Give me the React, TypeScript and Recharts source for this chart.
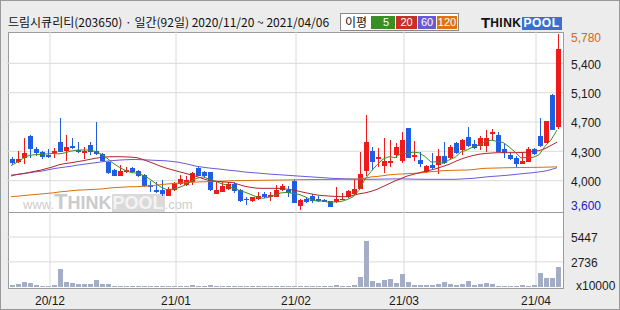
import { ComposedChart, Bar, Line, XAxis, YAxis, CartesianGrid } from 'recharts'

// 일봉 데이터 (2020/11/20 ~ 2021/04/06, 92일)
const opens = [4230, 4200, 4250, 4515, 4355, 4320, 4275, 4300, 4440, 4335, 4395, 4345, 4300, 4405, 4325, 4295, 4200, 4095, 4025, 4075, 4120, 4085, 4035, 3905, 3850, 3850, 3775, 3850, 3920, 3910, 3945, 4125, 4075, 4065, 3800, 3825, 3860, 3920, 3850, 3730, 3715, 3735, 3800, 3755, 3765, 3850, 3850, 3960, 3655, 3735, 3775, 3730, 3725, 3710, 3705, 3730, 3755, 3800, 3860, 4085, 4330, 4235, 4150, 4185, 4280, 4210, 4615, 4255, 4220, 4075, 4155, 4155, 4270, 4240, 4430, 4345, 4505, 4420, 4395, 4395, 4540, 4530, 4355, 4280, 4250, 4170, 4200, 4360, 4515, 4425, 5025, 4630]
const highs = [4260, 4330, 4495, 4530, 4385, 4335, 4350, 4370, 4740, 4535, 4495, 4440, 4385, 4445, 4695, 4310, 4205, 4105, 4155, 4135, 4130, 4095, 4040, 3965, 3950, 3970, 3890, 3950, 4035, 4015, 4075, 4135, 4085, 4075, 3950, 3950, 3950, 3950, 3855, 3765, 3765, 3820, 3820, 3820, 3910, 3920, 3895, 3985, 3735, 3765, 3795, 3775, 3730, 3710, 3890, 3815, 3850, 3985, 4320, 4775, 4375, 4370, 4490, 4465, 4425, 4560, 4615, 4455, 4315, 4155, 4300, 4360, 4440, 4405, 4440, 4480, 4630, 4465, 4515, 4590, 4600, 4560, 4425, 4320, 4270, 4320, 4375, 4370, 4735, 4700, 5035, 5780]
const lows = [4155, 4180, 4165, 4240, 4270, 4230, 4245, 4250, 4320, 4210, 4355, 4310, 4230, 4280, 4280, 4200, 4045, 4025, 4015, 4060, 4055, 4005, 3890, 3825, 3805, 3775, 3775, 3835, 3910, 3895, 3910, 4015, 4000, 3835, 3800, 3820, 3850, 3805, 3705, 3660, 3705, 3725, 3745, 3715, 3755, 3840, 3755, 3690, 3600, 3690, 3690, 3705, 3695, 3640, 3690, 3720, 3745, 3790, 3855, 4015, 4095, 4135, 4060, 4135, 4250, 4180, 4250, 4210, 4130, 4060, 4105, 4040, 4170, 4230, 4290, 4275, 4385, 4355, 4345, 4315, 4465, 4315, 4250, 4225, 4130, 4170, 4190, 4280, 4375, 4425, 4590, 4600]
const closes = [4180, 4230, 4300, 4350, 4310, 4260, 4255, 4330, 4320, 4375, 4370, 4315, 4335, 4320, 4295, 4205, 4055, 4025, 4080, 4095, 4065, 4015, 3895, 3880, 3825, 3800, 3855, 3930, 3985, 3970, 4055, 4025, 4015, 3850, 3850, 3900, 3920, 3840, 3715, 3725, 3755, 3775, 3755, 3785, 3850, 3895, 3805, 3690, 3725, 3705, 3715, 3715, 3695, 3640, 3735, 3740, 3835, 3860, 4045, 4440, 4200, 4255, 4205, 4205, 4380, 4465, 4250, 4280, 4170, 4145, 4125, 4270, 4180, 4380, 4300, 4465, 4395, 4370, 4495, 4495, 4570, 4320, 4300, 4230, 4170, 4205, 4355, 4295, 4395, 4700, 4590, 5595]
// 거래량 (x10000)
const volumes = [180, 365, 580, 475, 255, 145, 145, 255, 2005, 580, 400, 330, 330, 330, 730, 290, 290, 110, 110, 100, 100, 110, 120, 110, 100, 100, 100, 110, 110, 120, 210, 110, 100, 200, 110, 100, 100, 100, 100, 95, 90, 90, 90, 95, 100, 100, 100, 110, 110, 100, 100, 100, 100, 110, 180, 110, 110, 180, 1095, 5000, 620, 440, 730, 840, 440, 1390, 510, 255, 180, 180, 180, 365, 510, 290, 255, 330, 620, 255, 290, 440, 290, 150, 110, 110, 150, 180, 110, 180, 1530, 985, 985, 2190]
// 이동평균선
const ma5 = [4150, 4190, 4240, 4275, 4285, 4290, 4295, 4301, 4295, 4308, 4330, 4342, 4343, 4343, 4327, 4294, 4242, 4180, 4132, 4092, 4064, 4056, 4030, 3990, 3936, 3883, 3851, 3858, 3879, 3908, 3959, 3993, 4010, 3983, 3959, 3928, 3907, 3872, 3845, 3820, 3791, 3762, 3745, 3759, 3784, 3812, 3818, 3805, 3793, 3764, 3728, 3710, 3711, 3694, 3700, 3705, 3729, 3762, 3843, 3984, 4076, 4160, 4229, 4261, 4249, 4302, 4301, 4316, 4309, 4262, 4194, 4198, 4178, 4220, 4251, 4319, 4344, 4382, 4405, 4444, 4465, 4450, 4436, 4383, 4318, 4245, 4252, 4251, 4284, 4390, 4467, 4590]
const ma20 = [4030, 4040, 4050, 4065, 4080, 4095, 4115, 4135, 4160, 4175, 4185, 4198, 4210, 4225, 4240, 4250, 4258, 4260, 4260, 4258, 4255, 4248, 4225, 4198, 4170, 4140, 4116, 4095, 4075, 4055, 4035, 4013, 3988, 3965, 3957, 3950, 3944, 3938, 3915, 3893, 3880, 3870, 3868, 3868, 3868, 3867, 3858, 3848, 3832, 3815, 3800, 3786, 3778, 3773, 3768, 3765, 3765, 3780, 3800, 3812, 3830, 3856, 3890, 3925, 3960, 3990, 4020, 4040, 4060, 4080, 4095, 4115, 4140, 4165, 4200, 4230, 4255, 4275, 4290, 4300, 4305, 4310, 4310, 4310, 4310, 4312, 4315, 4325, 4335, 4360, 4400, 4440]
const ma60 = [4020, 4040, 4050, 4060, 4072, 4080, 4095, 4110, 4122, 4132, 4142, 4155, 4165, 4175, 4185, 4195, 4205, 4212, 4218, 4222, 4225, 4225, 4222, 4219, 4215, 4212, 4208, 4200, 4190, 4175, 4158, 4140, 4130, 4120, 4112, 4105, 4095, 4088, 4080, 4070, 4064, 4058, 4052, 4045, 4040, 4035, 4030, 4025, 4020, 4015, 4010, 4005, 4000, 3995, 3990, 3988, 3985, 3983, 3981, 3980, 3980, 3981, 3983, 3984, 3985, 3985, 3984, 3982, 3981, 3980, 3980, 3980, 3980, 3980, 3980, 3984, 3988, 3992, 4000, 4008, 4015, 4020, 4026, 4032, 4040, 4048, 4055, 4062, 4072, 4082, 4100, 4124]
const ma120 = [3765, 3770, 3778, 3785, 3792, 3798, 3805, 3812, 3823, 3830, 3838, 3845, 3848, 3852, 3856, 3860, 3868, 3876, 3880, 3884, 3888, 3889, 3893, 3897, 3905, 3914, 3922, 3928, 3933, 3938, 3943, 3946, 3949, 3951, 3954, 3957, 3960, 3963, 3964, 3965, 3966, 3967, 3968, 3969, 3970, 3971, 3972, 3974, 3975, 3976, 3977, 3977, 3978, 3978, 3979, 3980, 3980, 3982, 3985, 3992, 4010, 4015, 4025, 4035, 4042, 4045, 4050, 4054, 4058, 4065, 4075, 4080, 4087, 4090, 4092, 4094, 4095, 4100, 4110, 4116, 4118, 4120, 4122, 4124, 4125, 4126, 4127, 4128, 4129, 4130, 4132, 4135]

const priceTicks = [3600, 3963, 4327, 4690, 5053, 5417, 5780]
const priceTickLabels = ['3,600', '4,000', '4,300', '4,700', '5,100', '5,400', '5,780']
const priceGrid = [3963, 4327, 4690, 5053, 5417]
const volTicks = [0, 2736, 5447]
const volTickLabels = ['x10000', '2736', '5447']
const monthStarts = [7, 28, 48, 66, 88]
const monthLabels = ['20/12', '21/01', '21/02', '21/03', '21/04']

const RED = '#f01a1a'
const BLUE = '#1e5ee4'
const VOL = '#a4adc6'
const GRID = '#dadada'
const NUM_FONT = "'Liberation Sans', Arial, sans-serif"
const KR_FONT = "'Noto Sans CJK KR', 'Noto Sans', sans-serif"

const data = opens.map((o, i) => ({
  idx: i,
  pos: i + 0.5,
  o,
  h: highs[i],
  l: lows[i],
  c: closes[i],
  vol: volumes[i],
  ma5: ma5[i],
  ma20: ma20[i],
  ma60: ma60[i],
  ma120: ma120[i],
}))

function Candle(props: any) {
  const { x, y, width, height, payload } = props
  if (!payload || x == null || y == null) return null
  const top = Math.min(y, y + height)
  const bot = Math.max(y, y + height)
  const { o, h, l, c } = payload
  const k = h > l ? (bot - top) / (h - l) : 0
  const yOf = (v: number) => top + (h - v) * k
  const cx = Math.round(x + width / 2)
  const color = c >= o ? RED : BLUE
  const b1 = Math.round(yOf(Math.max(o, c)))
  const b2 = Math.round(yOf(Math.min(o, c)))
  return (
    <g shapeRendering="crispEdges">
      <line x1={cx + 0.5} x2={cx + 0.5} y1={Math.round(top)} y2={Math.round(bot)} stroke={color} strokeWidth={1} />
      <rect x={cx - 2} y={b1} width={5} height={Math.max(1, b2 - b1)} fill={color} />
    </g>
  )
}

function VolBar(props: any) {
  const { x, y, width, height } = props
  if (x == null || !height) return null
  const cx = Math.round(x + width / 2)
  return <rect x={cx - 2} y={y} width={5} height={height} fill={VOL} shapeRendering="crispEdges" />
}

function PriceTick(props: any) {
  const { x, y, payload } = props
  const i = priceTicks.indexOf(payload.value)
  const last = priceTicks.length - 1
  const fill = i === last ? '#d2691e' : i === 0 ? '#1a1ac8' : '#1a1a1a'
  const dy = i === last ? 4 : i === 0 ? -4 : 1
  return (
    <text x={x} y={y + dy} dy="0.35em" textAnchor="start" fontSize={12} fontFamily={NUM_FONT} fill={fill}>
      {priceTickLabels[i]}
    </text>
  )
}

function VolTick(props: any) {
  const { x, y, payload } = props
  const i = volTicks.indexOf(payload.value)
  return (
    <text x={i === 0 ? x + 5 : x} y={i === 0 ? y - 1 : y + 1} dy="0.35em" textAnchor="start" fontSize={12} fontFamily={NUM_FONT} fill="#1a1a1a">
      {volTickLabels[i]}
    </text>
  )
}

function MonthTick(props: any) {
  const { x, y, payload } = props
  const i = monthStarts.indexOf(payload.value)
  return (
    <text x={x} y={y} dy="0.71em" textAnchor="middle" fontSize={12} fontFamily={NUM_FONT} fill="#1a1a1a">
      {monthLabels[i]}
    </text>
  )
}

export default function App() {
  return (
    <div
      style={{
        position: 'absolute',
        left: 0,
        top: 0,
        width: 620,
        height: 310,
        boxSizing: 'border-box',
        background: '#ececec',
        border: '1px solid #999',
        overflow: 'hidden',
      }}
    >
      {/* 제목 */}
      <div style={{ position: 'absolute', left: 7, top: 12, fontSize: 12, fontFamily: KR_FONT, color: '#111', whiteSpace: 'nowrap', lineHeight: '18px' }}>
        드림시큐리티(203650) · 일간(92일) 2020/11/20 ~ 2021/04/06
      </div>

      {/* 이평 범례 */}
      <div style={{ position: 'absolute', left: 339, top: 12, width: 119, height: 18, boxSizing: 'border-box', background: '#fff', border: '1px solid #888' }} />
      <div style={{ position: 'absolute', left: 344, top: 12, fontSize: 12, fontFamily: KR_FONT, color: '#111', lineHeight: '18px' }}>이평</div>
      {[
        { t: '5', l: 370, w: 24, bg: '#3a8e28' },
        { t: '20', l: 395, w: 21, bg: '#c4302a' },
        { t: '60', l: 417, w: 18, bg: '#6a5ad2' },
        { t: '120', l: 436, w: 20, bg: '#dd7412' },
      ].map(b => (
        <div
          key={b.t}
          style={{ position: 'absolute', left: b.l, top: 15, width: b.w, height: 13, background: b.bg, color: '#fff', fontSize: 11, fontFamily: NUM_FONT, lineHeight: '13px', textAlign: b.t === '5' ? 'right' : 'center', paddingRight: b.t === '5' ? 6 : 0, boxSizing: 'border-box' }}
        >
          {b.t}
        </div>
      ))}

      {/* 로고 */}
      <div style={{ position: 'absolute', left: 480, top: 13, height: 16, display: 'flex', alignItems: 'flex-end', fontFamily: "'Liberation Sans', Arial, sans-serif", fontWeight: 700 }}>
        <span style={{ color: '#111', fontSize: 15, lineHeight: '15px' }}>T</span>
        <span style={{ color: '#111', fontSize: 12, lineHeight: '13px', letterSpacing: 0.5 }}>HINK</span>
        <span style={{ background: '#3d6fd0', color: '#fff', fontSize: 12, lineHeight: '13px', padding: '0 2px', letterSpacing: 0.5 }}>POOL</span>
      </div>

      {/* 차트 패널 */}
      <div style={{ position: 'absolute', left: 7, top: 31, width: 556, height: 257, boxSizing: 'border-box', background: '#fff', border: '1px solid #9c9c9c' }} />

      {/* 워터마크 */}
      <div style={{ position: 'absolute', left: 22, top: 188, height: 23, display: 'flex', alignItems: 'flex-end', fontFamily: "'Liberation Sans', Arial, sans-serif", whiteSpace: 'nowrap' }}>
        <span style={{ color: '#cdcdcd', fontSize: 13, lineHeight: '15px' }}>www.</span>
        <span style={{ color: '#cbcbcb', fontSize: 22, fontWeight: 700, lineHeight: '21px' }}>T</span>
        <span style={{ color: '#cbcbcb', fontSize: 18, fontWeight: 700, lineHeight: '18px' }}>HINK</span>
        <span style={{ background: '#dadada', color: '#f4f4f4', fontSize: 18, fontWeight: 700, lineHeight: '18px', padding: '0 1px' }}>POOL</span>
        <span style={{ color: '#cdcdcd', fontSize: 13, lineHeight: '15px' }}>.com</span>
      </div>

      {/* 가격 차트 */}
      <div style={{ position: 'absolute', left: -1, top: -1 }}>
        <ComposedChart width={620} height={212} data={data} margin={{ top: 32, right: 0, bottom: 0, left: 8 }}>
          <CartesianGrid xAxisId="grid" yAxisId="p" stroke={GRID} horizontalValues={priceGrid} verticalValues={monthStarts} x={7} width={556} />
          <XAxis xAxisId="grid" dataKey="pos" type="number" domain={[0, 92]} allowDataOverflow hide height={0} />
          <XAxis xAxisId="cat" dataKey="idx" type="category" hide height={0} />
          <YAxis
            yAxisId="p"
            orientation="right"
            domain={[3575, 5805]}
            allowDataOverflow
            ticks={priceTicks}
            interval={0}
            width={60}
            axisLine={false}
            tickLine={false}
            tickSize={0}
            tickMargin={11}
            tick={<PriceTick />}
          />
          <Line xAxisId="cat" yAxisId="p" dataKey="ma120" stroke="#d9700f" strokeWidth={1} dot={false} isAnimationActive={false} />
          <Line xAxisId="cat" yAxisId="p" dataKey="ma60" stroke="#6c5ad6" strokeWidth={1} dot={false} isAnimationActive={false} />
          <Line xAxisId="cat" yAxisId="p" dataKey="ma20" stroke="#b3262b" strokeWidth={1} dot={false} isAnimationActive={false} />
          <Line xAxisId="cat" yAxisId="p" dataKey="ma5" stroke="#3f8f1f" strokeWidth={1} dot={false} isAnimationActive={false} />
          <Bar xAxisId="cat" yAxisId="p" dataKey={(d: any) => [d.l, d.h]} barSize={5} shape={<Candle />} isAnimationActive={false} />
        </ComposedChart>
      </div>

      {/* 구분선 */}
      <div style={{ position: 'absolute', left: 7, top: 211, width: 556, height: 1, background: '#9c9c9c' }} />

      {/* 거래량 차트 */}
      <div style={{ position: 'absolute', left: -1, top: 211 }}>
        <ComposedChart width={620} height={98} data={data} margin={{ top: 0, right: 0, bottom: 0, left: 8 }}>
          <CartesianGrid xAxisId="grid" yAxisId="v" stroke={GRID} horizontalValues={[2736, 5447]} verticalValues={monthStarts} x={7} width={556} />
          <XAxis
            xAxisId="grid"
            dataKey="pos"
            type="number"
            domain={[0, 92]}
            allowDataOverflow
            ticks={monthStarts}
            interval={0}
            height={23}
            axisLine={false}
            tickLine={false}
            tickSize={0}
            tickMargin={9}
            tick={<MonthTick />}
          />
          <XAxis xAxisId="cat" dataKey="idx" type="category" hide height={0} />
          <YAxis
            yAxisId="v"
            orientation="right"
            domain={[0, 8170]}
            ticks={volTicks}
            interval={0}
            width={60}
            axisLine={false}
            tickLine={false}
            tickSize={0}
            tickMargin={11}
            tick={<VolTick />}
          />
          <Bar xAxisId="cat" yAxisId="v" dataKey="vol" barSize={5} fill={VOL} shape={<VolBar />} isAnimationActive={false} />
        </ComposedChart>
      </div>
    </div>
  )
}
